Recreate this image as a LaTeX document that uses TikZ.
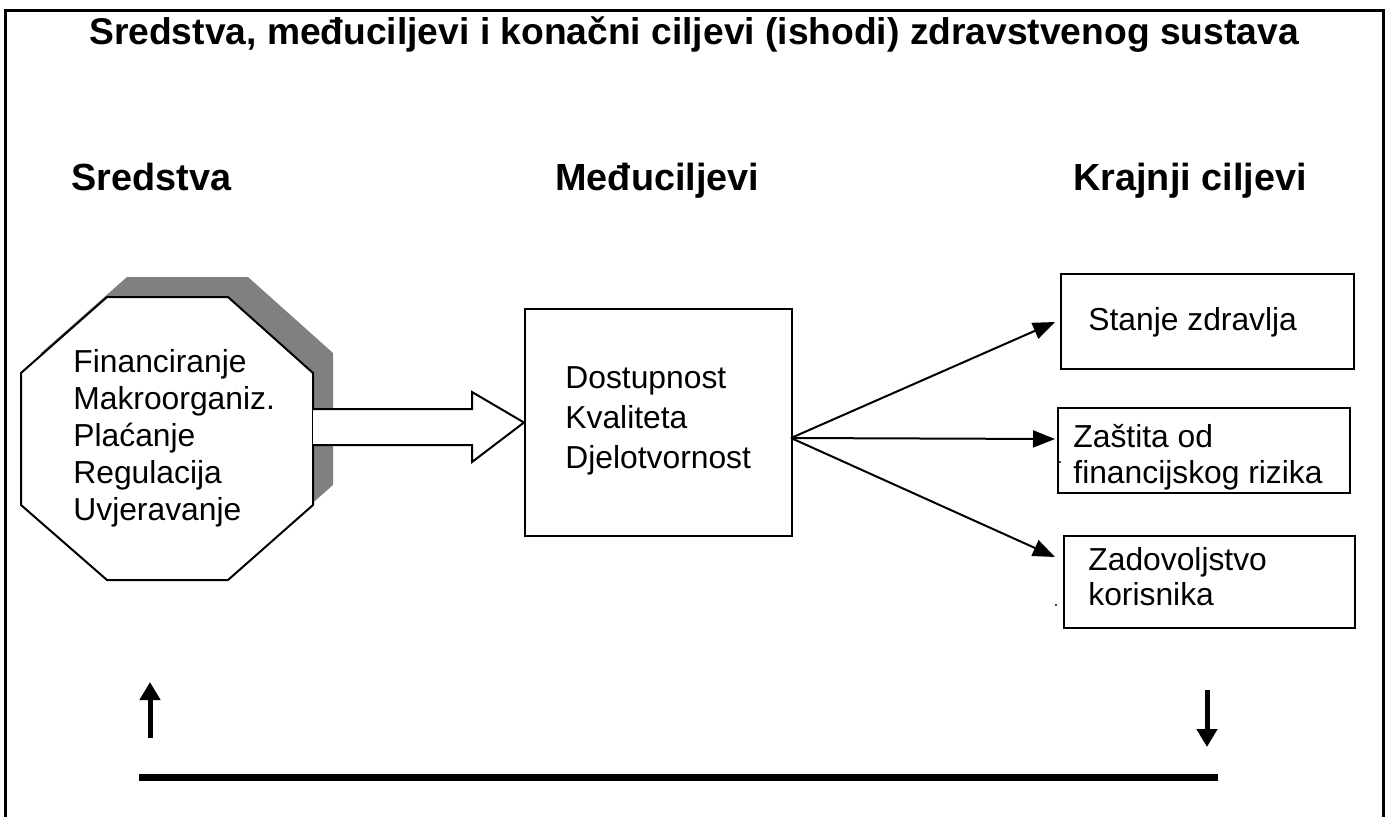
\documentclass[tikz,border=0pt]{standalone}
\usepackage{fontspec}
\setmainfont{Liberation Sans}
\usetikzlibrary{arrows.meta}
\begin{document}
\begin{tikzpicture}[x=0.5pt,y=-0.5pt,
  titlefont/.style={font=\fontsize{18.6}{22}\selectfont\bfseries},
  headfont/.style={font=\fontsize{18.9}{22}\selectfont\bfseries},
  bodytext/.style={font=\fontsize{15.9}{18}\selectfont, inner sep=0pt, anchor=base west},
  goalbox/.style={draw, line width=1pt, fill=white},
  thinarrow/.style={line width=1pt, -{Triangle[length=11pt,width=8.5pt]}},
  bigarrow/.style={line width=2.5pt, -{Triangle[length=9pt,width=10pt]}},
  ]
\useasboundingbox (0,0) rectangle (1393,816);
\clip (0,0) rectangle (1393,816);
\fill[white] (0,0) rectangle (1393,816);
% frame
\draw[line width=1.5pt] (5,840) -- (5,10) -- (1383,10) -- (1383,840);
% title
\node[titlefont, anchor=base, inner sep=0pt] (title) at (694,44) {Sredstva, međuciljevi i konačni ciljevi (ishodi) zdravstvenog sustava};
% headers
\node[headfont, anchor=base west, inner sep=0pt] (h1) at (71,190) {Sredstva};
\node[headfont, anchor=base west, inner sep=0pt] (h2) at (555,190) {Međuciljevi};
\node[headfont, anchor=base west, inner sep=0pt] (h3) at (1073,190) {Krajnji ciljevi};
% octagon shadow
\fill[black!50] (127,277) -- (248,277) -- (333,353) -- (333,485) -- (248,560) -- (127,560) -- (41,485) -- (41,353) -- cycle;
% octagon
\draw[line width=1pt, fill=white] (107,297) -- (228,297) -- (313,373) -- (313,505) -- (228,580) -- (107,580) -- (21,505) -- (21,373) -- cycle;
\coordinate (oct) at (313,427);
\node[bodytext] (s1) at (73,372) {Financiranje};
\node[bodytext] (s2) at (73,409) {Makroorganiz.};
\node[bodytext] (s3) at (73,446) {Plaćanje};
\node[bodytext] (s4) at (73,483) {Regulacija};
\node[bodytext] (s5) at (73,520) {Uvjeravanje};
% middle box
\node[goalbox, minimum width=133.5pt, minimum height=113.5pt, anchor=north west, inner sep=0pt] (mid) at (524,308) {};
\node[bodytext] (m1) at (565,388) {Dostupnost};
\node[bodytext] (m2) at (565,428) {Kvaliteta};
\node[bodytext] (m3) at (565,468) {Djelotvornost};
% block arrow
\draw[line width=1pt, fill=white] (oct) ++(0,-18) -- (472,409) -- (472,392) -- (mid.west) -- (472,462) -- (472,445) -- (313,445);
% goal boxes
\node[goalbox, minimum width=146.5pt, minimum height=47.5pt, anchor=north west, inner sep=0pt] (g1) at (1060,273) {};
\node[bodytext] (g1t) at (1088,330) {Stanje zdravlja};
\node[goalbox, minimum width=146pt, minimum height=42.5pt, anchor=north west, inner sep=0pt] (g2) at (1057,407) {};
\node[bodytext] (g2t) at (1073,447) {Zaštita od};
\node[bodytext] (g2u) at (1073,483) {financijskog rizika};
\node[goalbox, minimum width=145.5pt, minimum height=46pt, anchor=north west, inner sep=0pt] (g3) at (1063,535) {};
\node[bodytext] (g3t) at (1088,570) {Zadovoljstvo};
\node[bodytext] (g3u) at (1088,605) {korisnika};
\fill (1060,462) circle (0.6pt);
\fill (1056,605) circle (0.6pt);
% fan arrows
\coordinate (fan) at (791,438);
\coordinate (t1) at (1055,322);
\coordinate (t2) at (1055,439);
\coordinate (t3) at (1055,557);
\draw[thinarrow] (fan) -- (t1);
\draw[thinarrow] (fan) -- (t2);
\draw[thinarrow] (fan) -- (t3);
% bottom feedback
\coordinate (u0) at (150,738);
\coordinate (u1) at (150,682);
\coordinate (d0) at (1207,690);
\coordinate (d1) at (1207,747);
\coordinate (l0) at (139,777);
\coordinate (l1) at (1218,777);
\draw[bigarrow] (u0) -- (u1);
\draw[bigarrow] (d0) -- (d1);
\draw[line width=3.5pt] (l0) -- (l1);
\end{tikzpicture}
\end{document}
